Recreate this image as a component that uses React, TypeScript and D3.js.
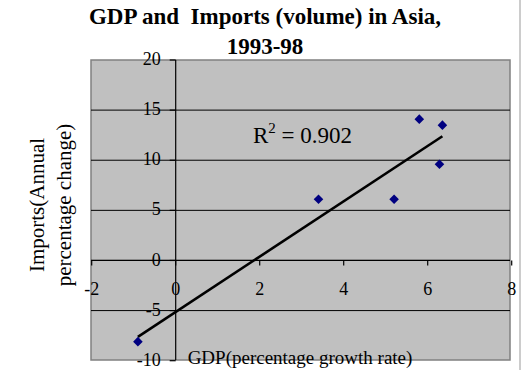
import * as d3 from "d3";

// GDP growth (%) vs import volume change (%), Asia 1993-98
const gdp = [-0.9, 3.4, 5.2, 5.8, 6.35, 6.28];
const imports = [-8.1, 6.1, 6.1, 14.1, 13.5, 9.6];
const xTicks = [-2, 0, 2, 4, 6, 8];
const yTicks = [20, 15, 10, 5, 0, -5, -10];
const titleLines = ["GDP and  Imports (volume) in Asia,", "1993-98"];
const yTitleLines = ["Imports(Annual", "percentage change)"];
const xTitle = "GDP(percentage growth rate)";
const r2Value = "0.902";

const W = 522;
const H = 370;
const plot = { left: 91, right: 510, top: 60, bottom: 360 };
const font = "'Liberation Serif', 'Times New Roman', serif";

export default function App() {
  const x = d3.scaleLinear().domain([-2, 8]).range([plot.left + 0.7, plot.right + 1.7]);
  const y = d3.scaleLinear().domain([-10, 20]).range([plot.bottom + 0.7, plot.top]);

  const pts = gdp.map((g, i) => ({ x: g, y: imports[i] }));

  // least squares trend line
  const mx = d3.mean(gdp) as number;
  const my = d3.mean(imports) as number;
  const sxy = d3.sum(pts, (p) => (p.x - mx) * (p.y - my));
  const sxx = d3.sum(pts, (p) => (p.x - mx) ** 2);
  const slope = sxy / sxx;
  const icpt = my - slope * mx;
  const [x0, x1] = d3.extent(gdp) as [number, number];
  const trend = d3.line<number>()
    .x((d) => x(d))
    .y((d) => y(slope * d + icpt))([x0, x1]);

  const marker = d3.symbol(d3.symbolSquare, 46)();

  return (
    <div style={{ position: "absolute", left: 0, top: 0 }}>
      <svg width={W} height={H} style={{ display: "block", background: "#fff" }}>
        {/* plot area */}
        <rect
          x={plot.left}
          y={plot.top}
          width={plot.right - plot.left}
          height={plot.bottom - plot.top}
          fill="#c0c0c0"
          stroke="#808080"
          strokeWidth={1.5}
        />
        <line x1={520} x2={520} y1={0} y2={H} stroke="#999" strokeWidth={1} />

        {/* gridlines */}
        {yTicks.slice(1, -1).map((t) => (
          <line key={t} x1={plot.left} x2={plot.right} y1={y(t)} y2={y(t)} stroke="#000" strokeWidth={1} />
        ))}

        {/* axes */}
        <line x1={x(0)} x2={x(0)} y1={plot.top} y2={plot.bottom} stroke="#000" strokeWidth={1.2} />
        <line x1={plot.left} x2={plot.right} y1={y(0)} y2={y(0)} stroke="#000" strokeWidth={1.2} />
        {yTicks.map((t) => (
          <line key={t} x1={x(0) - 6} x2={x(0)} y1={y(t)} y2={y(t)} stroke="#000" strokeWidth={1.2} />
        ))}
        {xTicks.map((t) => (
          <line key={t} x1={x(t)} x2={x(t)} y1={y(0)} y2={y(0) + 5} stroke="#000" strokeWidth={1.2} />
        ))}

        {/* tick labels */}
        {yTicks.map((t) => (
          <text
            key={t}
            x={x(0) - 15}
            y={y(t) + 1}
            textAnchor="end"
            dominantBaseline="middle"
            fontFamily={font}
            fontSize={18}
            fill="#000"
          >
            {t}
          </text>
        ))}
        {xTicks.map((t) => (
          <text
            key={t}
            x={x(t)}
            y={y(0) + 30}
            textAnchor="middle"
            dominantBaseline="middle"
            fontFamily={font}
            fontSize={18}
            fill="#000"
          >
            {t}
          </text>
        ))}

        {/* trend line */}
        <path d={trend ?? ""} fill="none" stroke="#000" strokeWidth={2.6} />

        {/* points */}
        {pts.map((p, i) => (
          <path
            key={i}
            d={marker ?? ""}
            transform={`translate(${x(p.x)},${y(p.y)}) rotate(45)`}
            fill="#000080"
          />
        ))}

        {/* R squared */}
        <text x={253} y={143} fontFamily={font} fontSize={23} fill="#000">
          R<tspan dy={-10} fontSize={15}>2</tspan>
          <tspan dy={10}> = {r2Value}</tspan>
        </text>

        {/* title */}
        {titleLines.map((l, i) => (
          <text
            key={i}
            x={265}
            y={24 + i * 30}
            textAnchor="middle"
            fontFamily={font}
            fontWeight="bold"
            fontSize={23}
            fill="#000"
            style={{ whiteSpace: "pre" }}
          >
            {l}
          </text>
        ))}

        {/* axis titles */}
        {yTitleLines.map((l, i) => (
          <text
            key={i}
            transform={`translate(${44 + i * 27},205) rotate(-90)`}
            textAnchor="middle"
            fontFamily={font}
            fontSize={21}
            fill="#000"
          >
            {l}
          </text>
        ))}
        <text x={300} y={364} textAnchor="middle" fontFamily={font} fontSize={19} fill="#000">
          {xTitle}
        </text>
      </svg>
    </div>
  );
}
